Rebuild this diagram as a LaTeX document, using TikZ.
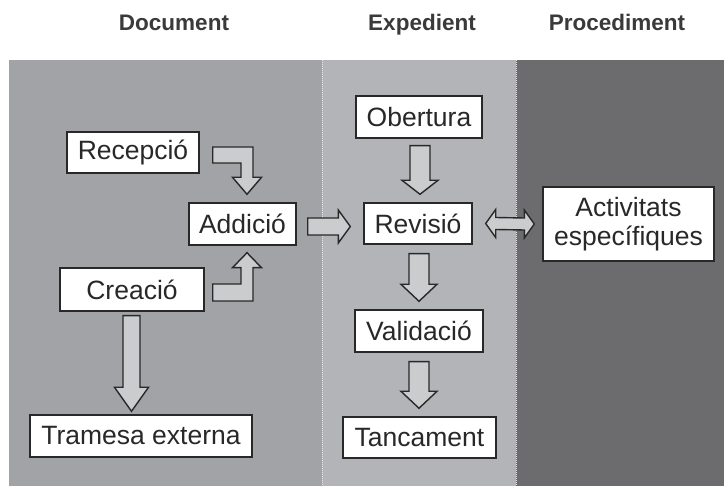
\documentclass[tikz,border=0pt]{standalone}
\usepackage{fontspec}
\setmainfont{Liberation Sans}
\usetikzlibrary{calc}
\definecolor{pdoc}{RGB}{161,163,166}
\definecolor{pexp}{RGB}{178,180,183}
\definecolor{pproc}{RGB}{108,108,110}
\definecolor{arrfill}{RGB}{202,204,206}
\definecolor{ink}{RGB}{40,40,40}
\definecolor{headink}{RGB}{58,58,58}
\tikzset{
  box/.style={draw=ink, line width=1.4pt, fill=white, inner sep=0pt, text=ink,
    font=\fontsize{26.5}{29}\selectfont, align=center},
  blk/.style={draw=ink, line width=1.4pt, fill=arrfill, line join=miter},
  head/.style={font=\bfseries\fontsize{22.5}{24}\selectfont, text=headink, anchor=base, inner sep=0pt},
}
\newcommand\downblk[5]{%
  \draw[blk] ($(#1)+(-#3,0)$) -- ($(#1)+(#3,0)$) -- ($(#1|-#2)+(#3,-#5)$) -- ($(#1|-#2)+(#4,-#5)$)
    -- (#1|-#2) -- ($(#1|-#2)+(-#4,-#5)$) -- ($(#1|-#2)+(-#3,-#5)$) -- cycle;}
\newcommand\rightblk[5]{%
  \draw[blk] ($(#1)+(0,-#3)$) -- ($(#1-|#2)+(-#5,-#3)$) -- ($(#1-|#2)+(-#5,-#4)$)
    -- (#1-|#2) -- ($(#1-|#2)+(-#5,#4)$) -- ($(#1-|#2)+(-#5,#3)$) -- ($(#1)+(0,#3)$) -- cycle;}
\begin{document}
\begin{tikzpicture}[x=1pt,y=-1pt]
\useasboundingbox (0,0) rectangle (724,486);
\fill[white] (0,0) rectangle (724,486);
% panels
\fill[pdoc] (9,60) rectangle (322,486);
\fill[pexp] (322,60) rectangle (516,486);
\fill[pproc] (516,60) rectangle (724,486);
\draw[white!80!gray, line width=1pt, densely dotted] (322,60) -- (322,486);
\draw[white!80!gray, line width=1pt, densely dotted] (516,60) -- (516,486);
% headers
\node[head] (hdoc) at (174,31) {Document};
\node[head] (hexp) at (422,31) {Expedient};
\node[head] (hproc) at (617,31) {Procediment};
% boxes
\node[box, minimum width=132pt, minimum height=41pt] (rec) at (133,152.5) {Recepció};
\node[box, minimum width=107pt, minimum height=42pt] (add) at (242.5,224) {Addició};
\node[box, minimum width=144pt, minimum height=43pt] (cre) at (132,289.5) {Creació};
\node[box, minimum width=222pt, minimum height=42pt] (tra) at (141,436) {Tramesa externa};
\node[box, minimum width=126pt, minimum height=42pt] (obe) at (419,117) {Obertura};
\node[box, minimum width=108pt, minimum height=41pt] (rev) at (418,223.5) {Revisió};
\node[box, minimum width=128pt, minimum height=42pt] (val) at (419,331) {Validació};
\node[box, minimum width=153pt, minimum height=41pt] (tan) at (419.5,437.5) {Tancament};
\node[box, minimum width=171pt, minimum height=74pt] (act) at (628.5,224) {Activitats\\específiques};
% vertical arrows in Expedient
\coordinate (o1) at ($(obe.south)+(1,7)$);
\coordinate (o2) at ($(rev.north)+(0,-8)$);
\downblk{o1}{o2}{10}{18}{14}
\coordinate (r1) at ($(rev.south)+(1,9)$);
\coordinate (r2) at ($(val.north)+(0,-8)$);
\downblk{r1}{r2}{10}{18}{17}
\coordinate (v1) at ($(val.south)+(0,9)$);
\coordinate (v2) at ($(tan.north)+(0,-8)$);
\downblk{v1}{v2}{10}{18}{17}
% Creacio -> Tramesa
\coordinate (c1) at ($(cre.south)+(-0.5,4)$);
\coordinate (c2) at ($(tra.north)+(0,-3)$);
\downblk{c1}{c2}{8.5}{17}{24}
% Addicio -> Revisio
\coordinate (h1) at ($(add.east)+(11,2.5)$);
\coordinate (h2) at ($(rev.west)+(-13,0)$);
\rightblk{h1}{h2}{8.5}{16.5}{12}
% Revisio <-> Activitats
\coordinate (d1) at ($(rev.east)+(13,0)$);
\coordinate (d2) at ($(act.west)+(-8,0)$);
\draw[blk] (d1) -- ($(d1)+(10,-14)$) -- ($(d1)+(10,-6)$) -- ($(d2)+(-10,-6)$) -- ($(d2)+(-10,-14)$)
  -- (d2) -- ($(d2)+(-10,14)$) -- ($(d2)+(-10,6)$) -- ($(d1)+(10,6)$) -- ($(d1)+(10,14)$) -- cycle;
% Recepcio -> Addicio (elbow)
\coordinate (e1) at ($(rec.east)+(13,2.5)$);
\coordinate (e2) at ($(add.north)+(4.5,-8)$);
\draw[blk] ($(e1)+(0,-8)$) -- ($(e1-|e2)+(6,-8)$) -- ($(e2)+(6,-17)$) -- ($(e2)+(14.5,-17)$)
  -- (e2) -- ($(e2)+(-14.5,-17)$) -- ($(e2)+(-6,-17)$) -- ($(e1-|e2)+(-6,8)$) -- ($(e1)+(0,8)$) -- cycle;
% Creacio -> Addicio (elbow)
\coordinate (f1) at ($(cre.east)+(8,3)$);
\coordinate (f2) at ($(add.south)+(4.5,7)$);
\draw[blk] ($(f1)+(0,8.5)$) -- ($(f1-|f2)+(6,8.5)$) -- ($(f2)+(6,15)$) -- ($(f2)+(14.5,15)$)
  -- (f2) -- ($(f2)+(-14.5,15)$) -- ($(f2)+(-6,15)$) -- ($(f1-|f2)+(-6,-8.5)$) -- ($(f1)+(0,-8.5)$) -- cycle;
\end{tikzpicture}
\end{document}
